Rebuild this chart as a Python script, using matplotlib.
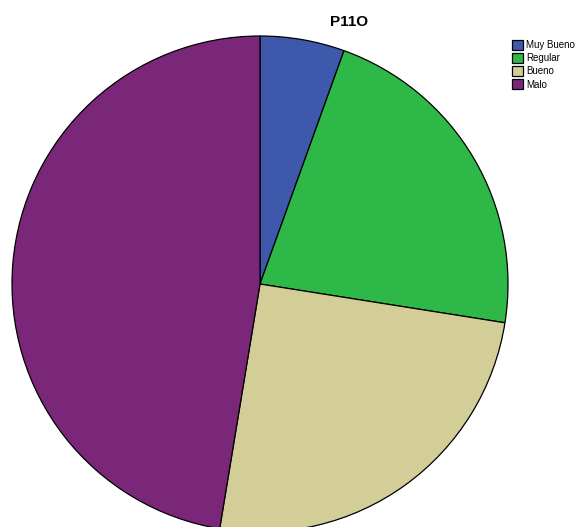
import matplotlib
matplotlib.use("Agg")
import matplotlib.pyplot as plt

categories = ["Muy Bueno", "Regular", "Bueno", "Malo"]
values = [5.5, 22.0, 25.1, 47.4]
colors = ["#3E58AC", "#2EB848", "#D3CE97", "#7B2779"]
title = "P11O"

W, H = 584, 527
fig = plt.figure(figsize=(W / 100, H / 100), dpi=100)
ax = fig.add_axes([0, 0, 1, 1])
cx, cy, r = 260, H - 284, 248
wedges, _ = ax.pie(values, colors=colors, startangle=90, counterclock=False,
                   center=(cx, cy), radius=r,
                   wedgeprops=dict(edgecolor="black", linewidth=0.9))
ax.set_xlim(0, W)
ax.set_ylim(0, H)
ax.set_aspect("auto")
ax.axis("off")

fig.text(349 / W, 1 - 22 / H, title, ha="center", va="center", fontsize=11,
         fontweight="bold", family="Liberation Sans")

leg = fig.legend(wedges, categories, loc="upper left",
                 bbox_to_anchor=(505 / W, 1 - 33 / H), frameon=False,
                 handlelength=1.2, handleheight=1.2,
                 handletextpad=0.3, labelspacing=0.3, borderpad=0.2,
                 prop={"family": "Liberation Sans", "size": 7})

fig.savefig("out.png", dpi=100)
